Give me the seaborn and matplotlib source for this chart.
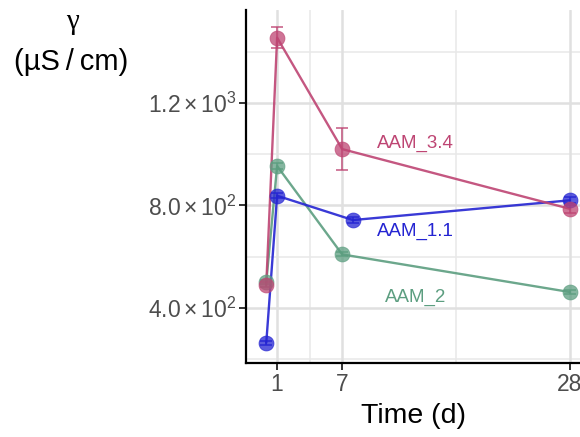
import matplotlib
matplotlib.use("Agg")
import matplotlib.pyplot as plt
import seaborn as sns
import pandas as pd
import numpy as np

# ---- data ----
series = ["AAM_1.1", "AAM_3.4", "AAM_2"]
days_11 = [0, 1, 8, 28]
vals_11 = [264, 838, 743, 820]
err_11 = [8, 10, 10, 12]
days_34 = [0, 1, 7, 28]
vals_34 = [490, 1455, 1020, 787]
err_34 = [10, 40, 82, 15]
days_2 = [0, 1, 7, 28]
vals_2 = [500, 954, 609, 462]
err_2 = [8, 10, 8, 8]
colors = {"AAM_1.1": "#2424D2", "AAM_3.4": "#BE4573", "AAM_2": "#5C9E80"}
label_pos = {"AAM_3.4": (13.8, 1043), "AAM_1.1": (13.8, 697), "AAM_2": (13.8, 443)}
x_ticks = [1, 7, 28]
y_ticks = [400, 800, 1200]
y_tick_labels = [r"$4.0\times10^{2}$", r"$8.0\times10^{2}$", r"$1.2\times10^{3}$"]

df = pd.concat([
    pd.DataFrame({"Time": days_11, "val": vals_11, "err": err_11, "grp": "AAM_1.1"}),
    pd.DataFrame({"Time": days_34, "val": vals_34, "err": err_34, "grp": "AAM_3.4"}),
    pd.DataFrame({"Time": days_2, "val": vals_2, "err": err_2, "grp": "AAM_2"}),
], ignore_index=True)

sns.set_theme(style="white")
plt.rcParams["font.family"] = ["Liberation Sans", "DejaVu Sans"]
plt.rcParams["mathtext.fontset"] = "custom"
plt.rcParams["mathtext.rm"] = "Liberation Sans"
plt.rcParams["mathtext.it"] = "Liberation Sans"

fig = plt.figure(figsize=(5.8, 4.37), dpi=100)
ax = fig.add_axes([246 / 580, 1 - 363 / 437, 1 - 246 / 580 + 0.002, (363 - 10) / 437])

ax.set_xlim(-1.87, 29.05)
ax.set_ylim(185, 1563)

# grid
for v in [4, 17.5]:
    ax.axvline(v, color="#E8E8E8", lw=1.1, zorder=0)
for v in [200, 600, 1000, 1400]:
    ax.axhline(v, color="#E8E8E8", lw=1.1, zorder=0)
for v in x_ticks:
    ax.axvline(v, color="#E0E0E0", lw=1.8, zorder=0)
for v in y_ticks:
    ax.axhline(v, color="#E0E0E0", lw=1.8, zorder=0)

order = ["AAM_2", "AAM_1.1", "AAM_3.4"]
for g in order:
    sub = df[df.grp == g]
    c = colors[g]
    sns.lineplot(data=sub, x="Time", y="val", ax=ax, color=c, lw=1.7, alpha=0.9,
                 sort=False, estimator=None, legend=False, zorder=2)
    ax.errorbar(sub.Time, sub.val, yerr=sub.err, fmt="none", ecolor=c, elinewidth=1.1,
                capsize=4, capthick=1.1, alpha=0.9, zorder=3)
    sns.scatterplot(data=sub, x="Time", y="val", ax=ax, color=c, s=115, alpha=0.75,
                    edgecolor=c, linewidth=0.6, legend=False, zorder=4)
    ax.text(label_pos[g][0], label_pos[g][1], g, color=c, fontsize=13.5,
            ha="center", va="center")

ax.set_xticks(x_ticks)
ax.set_xticklabels([str(t) for t in x_ticks])
ax.set_yticks(y_ticks)
ax.set_yticklabels(y_tick_labels)
ax.tick_params(axis="both", colors="#333333", labelcolor="#4D4D4D", labelsize=16.5,
               length=5, width=1.4, direction="out", left=True, bottom=True)
ax.tick_params(axis="x", pad=2)
ax.tick_params(axis="y", pad=2)

for s in ["top", "right"]:
    ax.spines[s].set_visible(False)
for s in ["left", "bottom"]:
    ax.spines[s].set_color("black")
    ax.spines[s].set_linewidth(1.6)

ax.set_xlabel("Time (d)", fontsize=20.5, color="black", labelpad=5)
ax.set_ylabel("")

fig.text(72 / 580, 1 - 22 / 437, "γ", fontsize=21, family=["Liberation Serif", "DejaVu Serif"],
         ha="center", va="center", color="black")
fig.text(71 / 580, 1 - 62 / 437, "(µS\u2009/\u2009cm)", fontsize=21, ha="center", va="center",
         color="black")

fig.savefig("out.png", dpi=100, facecolor="white")
